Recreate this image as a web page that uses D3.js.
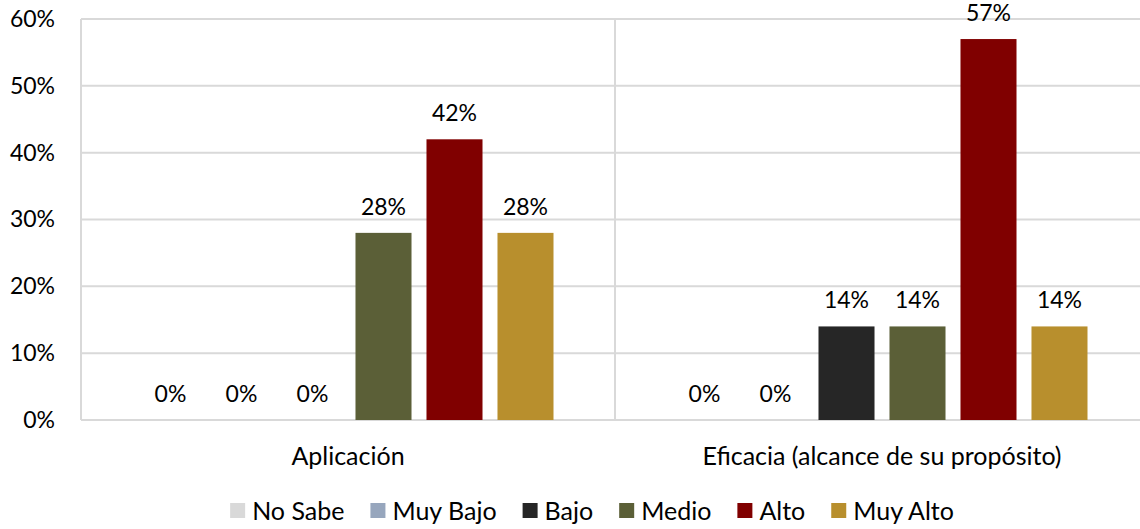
<!DOCTYPE html>
<html><head><meta charset="utf-8">
<script src="https://cdn.jsdelivr.net/npm/d3@7"></script>
<style>body{margin:0;background:#fff}svg{display:block}text{font-family:Lato,"Noto Sans",sans-serif;fill:#000}</style>
</head><body><svg id="c" width="1140" height="529"></svg>
<script>
const categories = ["Aplicación", "Eficacia (alcance de su propósito)"];
const seriesNames = ["No Sabe", "Muy Bajo", "Bajo", "Medio", "Alto", "Muy Alto"];
const seriesColors = ["#d9d9d9", "#97a6bd", "#262626", "#5b5f37", "#800000", "#b88f2d"];
const aplicacion = [0, 0, 0, 28, 42, 28];
const eficacia = [0, 0, 14, 14, 57, 14];
const values = [aplicacion, eficacia];
const yTicks = [0, 10, 20, 30, 40, 50, 60];

(function() {
const svg = d3.select("#c");
const fsNum = 23, fsWord = 25;
const mLeft = 81, mRight = 1149, mTop = 19, mBottom = 420;
const x0 = d3.scaleBand().domain(categories).range([mLeft, mRight]);
const gw = x0.bandwidth();
const x1 = d3.scaleBand().domain(seriesNames).range([61.5, gw - 61.5]).paddingInner(0.211);
const y = d3.scaleLinear().domain([0, 60]).range([mBottom, mTop]);

svg.append("g").selectAll("line").data(yTicks).join("line")
  .attr("x1", mLeft).attr("x2", mRight).attr("y1", d => y(d)).attr("y2", d => y(d))
  .attr("stroke", "#d9d9d9").attr("stroke-width", 2);
svg.append("g").selectAll("line").data([mLeft, mLeft + gw]).join("line")
  .attr("x1", d => d).attr("x2", d => d).attr("y1", mTop).attr("y2", mBottom)
  .attr("stroke", "#d9d9d9").attr("stroke-width", 2);

const yAxis = d3.axisLeft(y).tickValues(yTicks).tickFormat(d => d + "%").tickSize(0).tickPadding(26);
const ya = svg.append("g").attr("transform", `translate(${mLeft},0)`).call(yAxis);
ya.select(".domain").remove();
ya.selectAll("text").attr("font-size", fsNum).attr("fill", "#000").style("font-family", "Lato");

const groups = svg.append("g").selectAll("g").data(categories).join("g")
  .attr("transform", d => `translate(${x0(d)},0)`);
groups.each(function(cat, ci) {
  const g = d3.select(this);
  const data = seriesNames.map((s, i) => ({s, v: values[ci][i], c: seriesColors[i]}));
  g.selectAll("rect").data(data.filter(d => d.v > 0)).join("rect")
    .attr("x", d => x1(d.s)).attr("width", x1.bandwidth())
    .attr("y", d => y(d.v)).attr("height", d => y(0) - y(d.v))
    .attr("fill", d => d.c);
  g.selectAll("text").data(data).join("text")
    .attr("x", d => x1(d.s) + x1.bandwidth() / 2)
    .attr("y", d => y(d.v) - 18)
    .attr("text-anchor", "middle").attr("font-size", fsNum)
    .text(d => d.v + "%");
});

const xAxis = d3.axisBottom(x0).tickSize(0).tickPadding(27);
const xa = svg.append("g").attr("transform", `translate(0,${mBottom})`).call(xAxis);
xa.select(".domain").remove();
xa.selectAll("text").attr("font-size", fsWord).attr("fill", "#000").style("font-family", "Lato");

const lg = svg.append("g");
const items = lg.selectAll("g").data(seriesNames).join("g");
items.append("rect").attr("width", 15).attr("height", 15).attr("y", -8)
  .attr("fill", (d, i) => seriesColors[i]);
items.append("text").attr("x", 22).attr("y", 0).attr("dy", "0.35em")
  .attr("font-size", fsWord).text(d => d);
let cx = 0;
items.each(function() {
  const w = this.getBBox().width;
  d3.select(this).attr("transform", `translate(${cx},511)`);
  cx += w + 26;
});
const total = cx - 26;
lg.attr("transform", `translate(${592 - total / 2},0)`);
})();
</script></body></html>
